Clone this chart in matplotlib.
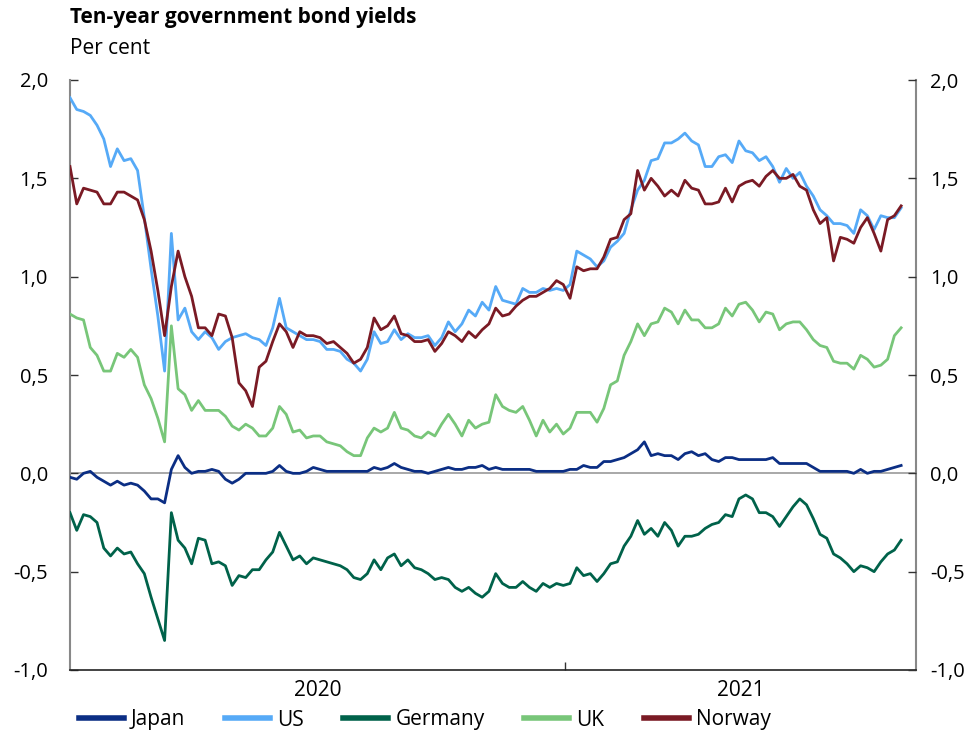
import pandas as pd
import matplotlib
matplotlib.use("Agg")
import matplotlib.pyplot as plt
from matplotlib.ticker import FuncFormatter

plt.rcParams['font.family'] = ['Open Sans', 'DejaVu Sans']

# 5-day sampling from 1 Jan 2020
dates = pd.date_range('2020-01-01', periods=124, freq='5D')

us = [1.91, 1.85, 1.84, 1.82, 1.77, 1.70, 1.56, 1.65, 1.59, 1.60, 1.54, 1.30, 1.04, 0.80, 0.52, 1.22, 0.78, 0.84,
      0.72, 0.68, 0.72, 0.69, 0.63, 0.67, 0.69, 0.70, 0.71, 0.69, 0.68, 0.65, 0.74, 0.89, 0.74, 0.72, 0.70, 0.68,
      0.68, 0.67, 0.63, 0.63, 0.62, 0.58, 0.56, 0.52, 0.58, 0.72, 0.66, 0.67, 0.73, 0.68, 0.71, 0.69, 0.69, 0.70,
      0.65, 0.69, 0.77, 0.72, 0.76, 0.83, 0.80, 0.87, 0.83, 0.95, 0.88, 0.87, 0.86, 0.94, 0.92, 0.92, 0.94, 0.93,
      0.94, 0.93, 0.96, 1.13, 1.11, 1.09, 1.05, 1.08, 1.15, 1.18, 1.22, 1.34, 1.44, 1.49, 1.59, 1.60, 1.68, 1.68,
      1.70, 1.73, 1.69, 1.67, 1.56, 1.56, 1.61, 1.62, 1.58, 1.69, 1.64, 1.63, 1.59, 1.61, 1.56, 1.48, 1.55,
      1.50, 1.53, 1.46, 1.41, 1.34, 1.31, 1.27, 1.27, 1.26, 1.22, 1.34, 1.31, 1.24, 1.31, 1.30, 1.30, 1.35]

norway = [1.56, 1.37, 1.45, 1.44, 1.43, 1.37, 1.37, 1.43, 1.43, 1.41, 1.39, 1.29, 1.13, 0.93, 0.70, 0.95, 1.13, 1.00,
          0.90, 0.74, 0.74, 0.70, 0.81, 0.80, 0.69, 0.46, 0.42, 0.34, 0.54, 0.57, 0.67, 0.76, 0.72, 0.64, 0.72, 0.70,
          0.70, 0.69, 0.66, 0.67, 0.64, 0.61, 0.56, 0.58, 0.64, 0.79, 0.73, 0.75, 0.80, 0.71, 0.70, 0.67, 0.67, 0.68,
          0.62, 0.66, 0.72, 0.70, 0.67, 0.72, 0.69, 0.73, 0.76, 0.84, 0.80, 0.81, 0.85, 0.88, 0.90, 0.90, 0.92, 0.94,
          0.98, 0.96, 0.89, 1.05, 1.03, 1.04, 1.04, 1.10, 1.19, 1.20, 1.29, 1.32, 1.54, 1.44, 1.50, 1.46, 1.41, 1.44,
          1.41, 1.49, 1.45, 1.44, 1.37, 1.37, 1.38, 1.45, 1.38, 1.46, 1.48, 1.49, 1.46, 1.51, 1.54, 1.50, 1.50,
          1.52, 1.46, 1.44, 1.34, 1.27, 1.30, 1.08, 1.20, 1.19, 1.17, 1.25, 1.30, 1.22, 1.13, 1.29, 1.31, 1.36]

uk = [0.81, 0.79, 0.78, 0.64, 0.60, 0.52, 0.52, 0.61, 0.59, 0.63, 0.59, 0.45, 0.38, 0.28, 0.16, 0.75, 0.43, 0.40,
      0.32, 0.37, 0.32, 0.32, 0.32, 0.29, 0.24, 0.22, 0.25, 0.23, 0.19, 0.19, 0.23, 0.34, 0.30, 0.21, 0.22, 0.18,
      0.19, 0.19, 0.16, 0.15, 0.14, 0.11, 0.09, 0.09, 0.18, 0.23, 0.21, 0.23, 0.31, 0.23, 0.22, 0.19, 0.18, 0.21,
      0.19, 0.25, 0.30, 0.25, 0.19, 0.27, 0.23, 0.25, 0.26, 0.40, 0.34, 0.32, 0.31, 0.34, 0.27, 0.19, 0.27, 0.21,
      0.25, 0.20, 0.23, 0.31, 0.31, 0.31, 0.26, 0.33, 0.45, 0.47, 0.60, 0.67, 0.76, 0.70, 0.76, 0.77, 0.84, 0.82,
      0.76, 0.83, 0.78, 0.78, 0.74, 0.74, 0.76, 0.84, 0.80, 0.86, 0.87, 0.83, 0.77, 0.82, 0.81, 0.73, 0.76,
      0.77, 0.77, 0.73, 0.68, 0.65, 0.64, 0.57, 0.56, 0.56, 0.53, 0.60, 0.58, 0.54, 0.55, 0.58, 0.70, 0.74]

japan = [-0.02, -0.03, 0.00, 0.01, -0.02, -0.04, -0.06, -0.04, -0.06, -0.05, -0.06, -0.09, -0.13, -0.13, -0.15, 0.02, 0.09, 0.03,
         0.00, 0.01, 0.01, 0.02, 0.01, -0.03, -0.05, -0.03, 0.00, 0.00, 0.00, 0.00, 0.01, 0.04, 0.01, 0.00, 0.00, 0.01,
         0.03, 0.02, 0.01, 0.01, 0.01, 0.01, 0.01, 0.01, 0.01, 0.03, 0.02, 0.03, 0.05, 0.03, 0.02, 0.01, 0.01, 0.00,
         0.01, 0.02, 0.03, 0.02, 0.02, 0.03, 0.03, 0.04, 0.02, 0.03, 0.02, 0.02, 0.02, 0.02, 0.02, 0.01, 0.01, 0.01,
         0.01, 0.01, 0.02, 0.02, 0.04, 0.03, 0.03, 0.06, 0.06, 0.07, 0.08, 0.10, 0.12, 0.16, 0.09, 0.10, 0.09, 0.09,
         0.07, 0.10, 0.11, 0.09, 0.10, 0.07, 0.06, 0.08, 0.08, 0.07, 0.07, 0.07, 0.07, 0.07, 0.08, 0.05, 0.05,
         0.05, 0.05, 0.05, 0.03, 0.01, 0.01, 0.01, 0.01, 0.01, 0.00, 0.02, 0.00, 0.01, 0.01, 0.02, 0.03, 0.04]

germany = [-0.20, -0.29, -0.21, -0.22, -0.25, -0.38, -0.42, -0.38, -0.41, -0.40, -0.46, -0.51, -0.63, -0.74, -0.85, -0.20, -0.34, -0.38,
           -0.46, -0.33, -0.34, -0.46, -0.45, -0.47, -0.57, -0.52, -0.53, -0.49, -0.49, -0.44, -0.40, -0.30, -0.37, -0.44, -0.42, -0.46,
           -0.43, -0.44, -0.45, -0.46, -0.47, -0.49, -0.53, -0.54, -0.51, -0.44, -0.49, -0.43, -0.41, -0.47, -0.44, -0.48, -0.49, -0.51,
           -0.54, -0.53, -0.54, -0.58, -0.60, -0.58, -0.61, -0.63, -0.60, -0.51, -0.56, -0.58, -0.58, -0.55, -0.58, -0.60, -0.56, -0.58,
           -0.56, -0.57, -0.56, -0.48, -0.52, -0.51, -0.55, -0.51, -0.46, -0.45, -0.37, -0.32, -0.24, -0.31, -0.28, -0.32, -0.25, -0.29,
           -0.37, -0.32, -0.32, -0.31, -0.28, -0.26, -0.25, -0.21, -0.22, -0.13, -0.11, -0.13, -0.20, -0.20, -0.22, -0.27, -0.22,
           -0.17, -0.13, -0.16, -0.23, -0.31, -0.33, -0.41, -0.43, -0.46, -0.50, -0.47, -0.48, -0.50, -0.45, -0.41, -0.39, -0.34]

names = ['Japan', 'US', 'Germany', 'UK', 'Norway']
colors = ['#0b2e84', '#56aaf7', '#00624a', '#78c679', '#7a1a24']

fig = plt.figure(figsize=(9.7, 7.35), dpi=100)
ax = fig.add_axes([70/970, 65/735, 846/970, 590/735])

ax.axhline(0, color='#999999', lw=1.2, zorder=1)
for name, vals, c in zip(names, [japan, us, germany, uk, norway], colors):
    ax.plot(dates, vals, color=c, lw=2.0, label=name, zorder=3)

x0 = pd.Timestamp('2020-01-01')
x1 = pd.Timestamp('2021-09-18')
ax.set_xlim(x0, x1)
ax.set_ylim(-1, 2)

comma = FuncFormatter(lambda v, p: ('%.1f' % v).replace('.', ','))
yt = [-1, -0.5, 0, 0.5, 1, 1.5, 2]
ax.set_yticks(yt)
ax.yaxis.set_major_formatter(comma)
ax.tick_params(axis='y', direction='in', length=6, width=1, color='#333333',
               labelsize=14.5, pad=16)

# year ticks and centered year labels
y2021 = pd.Timestamp('2021-01-01')
ax.set_xticks([y2021])
ax.xaxis.set_major_formatter(FuncFormatter(lambda v, p: ''))
mid20 = x0 + (y2021 - x0) / 2
mid21 = y2021 + (x1 - y2021) / 2
ax.set_xticks([mid20, mid21], minor=True)
ax.set_xticklabels(['2020', '2021'], minor=True)
ax.tick_params(axis='x', which='major', direction='in', length=6, width=1, color='#333333')
ax.tick_params(axis='x', which='minor', length=0, labelsize=15, pad=7)

ax.spines['top'].set_visible(False)
for s in ['left', 'right']:
    ax.spines[s].set_color('#888888')
    ax.spines[s].set_linewidth(1.5)
ax.spines['bottom'].set_color('#222222')
ax.spines['bottom'].set_linewidth(1.2)

ax2 = ax.twinx()
ax2.set_ylim(-1, 2)
ax2.set_yticks(yt)
ax2.yaxis.set_major_formatter(comma)
ax2.tick_params(axis='y', direction='in', length=6, width=1, color='#333333',
                labelsize=14.5, pad=10)
for s in ax2.spines.values():
    s.set_visible(False)

fig.text(70/970, 1 - 18/735, 'Ten-year government bond yields', fontsize=15,
         fontweight='bold', va='center', ha='left')
fig.text(70/970, 1 - 48/735, 'Per cent', fontsize=15, va='center', ha='left')

leg = fig.legend(loc='center left', bbox_to_anchor=(79/970, 15/735), ncol=5,
                 frameon=False, fontsize=15, handlelength=2.15, handletextpad=0.35,
                 columnspacing=1.9, borderaxespad=0, borderpad=0)
for h in leg.get_lines():
    h.set_linewidth(4)

fig.savefig('out.png', dpi=100)
